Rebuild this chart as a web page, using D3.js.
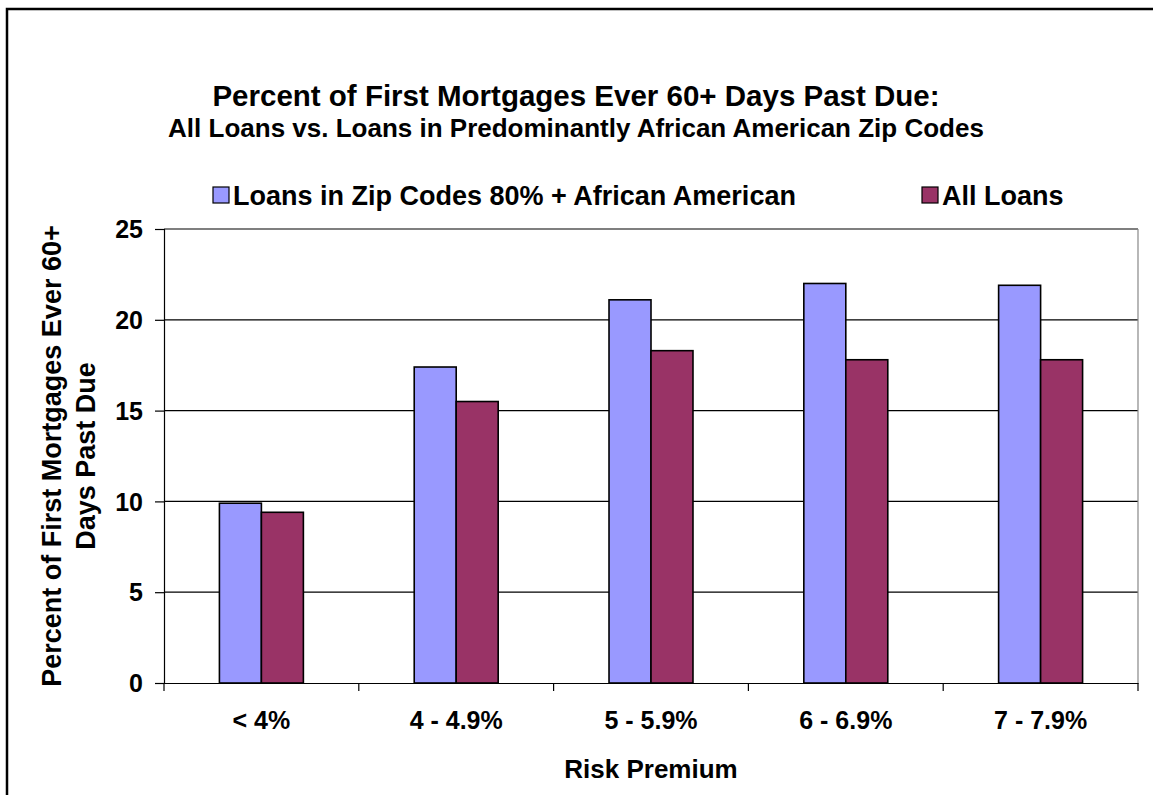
<!DOCTYPE html>
<html>
<head>
<meta charset="utf-8">
<script src="https://cdn.jsdelivr.net/npm/d3@7"></script>
<style>
  body { margin: 0; background: #fff; }
  svg { display: block; font-family: "Liberation Sans", Arial, sans-serif; font-weight: bold; }
  .tick text { fill: #000; }
</style>
</head>
<body>
<svg width="1153" height="795"></svg>
<script>
// chart values
const categories = ["< 4%", "4 - 4.9%", "5 - 5.9%", "6 - 6.9%", "7 - 7.9%"];
const seriesNames = ["Loans in Zip Codes 80% + African American", "All Loans"];
const zipLoans = [9.9, 17.4, 21.1, 22.0, 21.9];
const allLoans = [9.4, 15.5, 18.3, 17.8, 17.8];
const yTicks = [0, 5, 10, 15, 20, 25];
const colors = ["#9999ff", "#993366"];

let svg = d3.select("svg");
let margin = { top: 229, right: 15, bottom: 112, left: 164 };
let width = +svg.attr("width") - margin.left - margin.right;
let height = +svg.attr("height") - margin.top - margin.bottom;

// outer chart frame (runs off the right/bottom edge like the original)
svg.append("rect")
    .attr("x", 7).attr("y", 9)
    .attr("width", 1200).attr("height", 900)
    .attr("fill", "none").attr("stroke", "#000").attr("stroke-width", 2.5);

let g = svg.append("g").attr("transform", `translate(${margin.left},${margin.top})`);

let x0 = d3.scaleBand().domain(categories).range([0, width]).paddingInner(0).paddingOuter(0);
let x1 = d3.scaleBand().domain(seriesNames).range([0, x0.bandwidth()]).paddingInner(0).paddingOuter(1.32);
let y = d3.scaleLinear().domain([0, 25]).range([height, 0]);

// gridlines
g.append("g")
    .selectAll("line")
    .data(yTicks.slice(1))
    .enter().append("line")
    .attr("x1", 0).attr("x2", width)
    .attr("y1", d => y(d)).attr("y2", d => y(d))
    .attr("stroke", "#000").attr("stroke-width", 1.2);

// right border of plot area
g.append("line")
    .attr("x1", width).attr("x2", width)
    .attr("y1", 0).attr("y2", height)
    .attr("stroke", "#888").attr("stroke-width", 1.2);

// bars
let rows = categories.map((c, i) => ({ cat: c, values: [zipLoans[i], allLoans[i]] }));
g.selectAll(".group")
    .data(rows)
    .enter().append("g")
    .attr("class", "group")
    .attr("transform", d => `translate(${x0(d.cat)},0)`)
    .selectAll("rect")
    .data(d => d.values.map((v, j) => ({ key: seriesNames[j], v: v, j: j })))
    .enter().append("rect")
    .attr("x", d => x1(d.key))
    .attr("width", x1.bandwidth())
    .attr("y", d => y(d.v))
    .attr("height", d => height - y(d.v))
    .attr("fill", d => colors[d.j])
    .attr("stroke", "#000").attr("stroke-width", 1.6);

// y axis
let yAxis = g.append("g")
    .call(d3.axisLeft(y).tickValues(yTicks).tickSize(9).tickPadding(12).tickFormat(d3.format("d")));
yAxis.select(".domain").attr("stroke", "#000").attr("stroke-width", 1.2);
yAxis.selectAll(".tick line").attr("stroke", "#000").attr("stroke-width", 1.2);
yAxis.selectAll(".tick text").style("font-size", "25px").attr("dy", "0.35em");

// x axis
let xAxis = g.append("g")
    .attr("transform", `translate(0,${height})`)
    .call(d3.axisBottom(x0).tickSize(0).tickPadding(28));
xAxis.select(".domain").attr("stroke", "#000").attr("stroke-width", 1.2);
xAxis.selectAll(".tick text").style("font-size", "25px");
g.append("g")
    .attr("transform", `translate(0,${height})`)
    .selectAll("line")
    .data(categories.map(c => x0(c)).concat([width]))
    .enter().append("line")
    .attr("x1", d => d).attr("x2", d => d)
    .attr("y1", 0).attr("y2", 8)
    .attr("stroke", "#000").attr("stroke-width", 1.2);

// axis titles
g.append("text")
    .attr("x", width / 2).attr("y", 778 - margin.top)
    .attr("text-anchor", "middle")
    .style("font-size", "26px")
    .text("Risk Premium");

let yt = svg.append("text")
    .attr("transform", `translate(0,${margin.top + height / 2}) rotate(-90)`)
    .attr("text-anchor", "middle")
    .style("font-size", "27px");
yt.append("tspan").attr("x", 0).attr("y", 61).text("Percent of First Mortgages Ever 60+");
yt.append("tspan").attr("x", 0).attr("y", 95).text("Days Past Due");

// titles
svg.append("text")
    .attr("x", 576).attr("y", 106)
    .attr("text-anchor", "middle")
    .style("font-size", "29.5px")
    .text("Percent of First Mortgages Ever 60+ Days Past Due:");
svg.append("text")
    .attr("x", 576).attr("y", 137)
    .attr("text-anchor", "middle")
    .style("font-size", "26px")
    .text("All Loans vs. Loans in Predominantly African American Zip Codes");

// legend
let legendX = [213, 922];
let legend = svg.selectAll(".legend")
    .data(seriesNames)
    .enter().append("g")
    .attr("class", "legend")
    .attr("transform", (d, i) => `translate(${legendX[i]},187)`);
legend.append("rect")
    .attr("width", 16).attr("height", 16)
    .attr("fill", (d, i) => colors[i])
    .attr("stroke", "#000").attr("stroke-width", 1.2);
legend.append("text")
    .attr("x", 20).attr("y", 18)
    .style("font-size", "27px")
    .text(d => d);
</script>
</body>
</html>
